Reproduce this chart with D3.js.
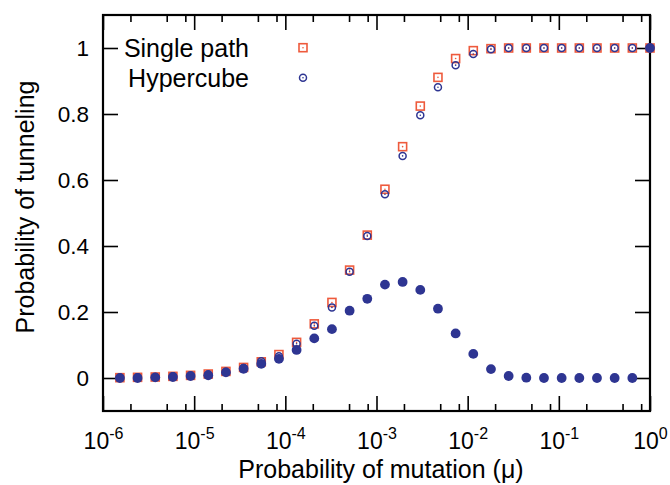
<!DOCTYPE html>
<html>
<head>
<meta charset="utf-8">
<script src="https://cdn.jsdelivr.net/npm/d3@7"></script>
<style>
  html, body { margin: 0; padding: 0; background: #fff; }
  svg { display: block; }
  text { font-family: "Liberation Sans", Arial, Helvetica, sans-serif; fill: #000; }
</style>
</head>
<body>
<svg id="chart" width="670" height="485"></svg>
<script>
// Mutation probabilities (x values, log axis)
const mu = [1.532e-6, 2.394e-6, 3.741e-6, 5.846e-6, 9.134e-6, 1.4272e-5, 2.2301e-5, 3.4845e-5,
  5.4445e-5, 8.507e-5, 1.3292e-4, 2.0769e-4, 3.2452e-4, 5.0706e-4, 7.9228e-4, 1.2379e-3,
  1.9343e-3, 3.0223e-3, 4.7224e-3, 7.3787e-3, 1.1529e-2, 1.8014e-2, 2.8147e-2, 4.398e-2,
  6.8719e-2, 0.10737, 0.16777, 0.262144, 0.4096, 0.64, 1.0];

// Single path (open squares)
const singlePath = [0.001, 0.002, 0.003, 0.005, 0.008, 0.012, 0.020, 0.032, 0.049, 0.071,
  0.108, 0.164, 0.229, 0.327, 0.433, 0.572, 0.701, 0.824, 0.911, 0.968,
  0.992, 0.998, 1.0, 1.0, 1.0, 1.0, 1.0, 1.0, 1.0, 1.0, 1.0];

// Hypercube (open circles)
const hypercube = [0.001, 0.002, 0.003, 0.005, 0.007, 0.011, 0.019, 0.030, 0.051, 0.066,
  0.104, 0.158, 0.214, 0.322, 0.430, 0.557, 0.673, 0.796, 0.881, 0.948,
  0.982, 0.996, 1.0, 1.0, 1.0, 1.0, 1.0, 1.0, 1.0, 1.0, 1.0];

// Unlabelled third series (filled circles)
const filled = [0.000, 0.000, 0.002, 0.003, 0.006, 0.008, 0.017, 0.028, 0.043, 0.058,
  0.085, 0.120, 0.148, 0.204, 0.240, 0.283, 0.291, 0.267, 0.210, 0.135,
  0.073, 0.027, 0.006, 0.001, 0.000, 0.000, 0.000, 0.000, 0.000, 0.000, 1.0];

const xMajorTicks = [1e-6, 1e-5, 1e-4, 1e-3, 1e-2, 1e-1, 1];
const xExponents = ["-6", "-5", "-4", "-3", "-2", "-1", "0"];
const xMinorTicks = [2e-6, 5e-6, 8e-6, 2e-5, 5e-5, 8e-5, 2e-4, 5e-4, 8e-4, 2e-3, 5e-3, 8e-3,
  2e-2, 5e-2, 8e-2, 2e-1, 5e-1, 8e-1];
const yTicks = [0, 0.2, 0.4, 0.6, 0.8, 1];
const yTickLabels = ["0", "0.2", "0.4", "0.6", "0.8", "1"];
const legendLabels = ["Single path", "Hypercube"];

const colSquare = "#ee5a3c";
const colNavy = "#2e3592";

const L = 103, R = 650, T = 15, B = 411;
const svg = d3.select("#chart");

const x = d3.scaleLog().domain([1e-6, 1]).range([L, R]);
const y = d3.scaleLinear().domain([-0.1, 1.1]).range([B, T]);

function styleAxis(g) {
  g.select(".domain").remove();
  g.selectAll(".tick line").attr("stroke", "#000").attr("stroke-width", 1.6);
}

const xLabelMap = new Map(xMajorTicks.map((v, i) => [v, xExponents[i]]));

const gxb = svg.append("g").attr("transform", `translate(0,${B})`)
  .call(d3.axisBottom(x).tickValues(xMajorTicks).tickSize(-15).tickPadding(22).tickFormat(""));
styleAxis(gxb);
gxb.selectAll(".tick text").each(function(d) {
  const t = d3.select(this);
  t.text(null).attr("font-size", 23).attr("fill", "#000");
  t.append("tspan").text("10");
  t.append("tspan").attr("dy", -10).attr("font-size", 16).text(xLabelMap.get(d));
});

const gxbm = svg.append("g").attr("transform", `translate(0,${B})`)
  .call(d3.axisBottom(x).tickValues(xMinorTicks).tickSize(-7).tickFormat(""));
styleAxis(gxbm);

const gxt = svg.append("g").attr("transform", `translate(0,${T})`)
  .call(d3.axisTop(x).tickValues(xMajorTicks).tickSize(-15).tickFormat(""));
styleAxis(gxt);
const gxtm = svg.append("g").attr("transform", `translate(0,${T})`)
  .call(d3.axisTop(x).tickValues(xMinorTicks).tickSize(-7).tickFormat(""));
styleAxis(gxtm);

const gyl = svg.append("g").attr("transform", `translate(${L},0)`)
  .call(d3.axisLeft(y).tickValues(yTicks).tickSize(-15).tickPadding(14)
    .tickFormat((d, i) => yTickLabels[i]));
styleAxis(gyl);
gyl.selectAll(".tick text").attr("font-size", 22.5).attr("fill", "#000");

const gyr = svg.append("g").attr("transform", `translate(${R},0)`)
  .call(d3.axisRight(y).tickValues(yTicks).tickSize(-15).tickFormat(""));
styleAxis(gyr);

// frame
svg.append("rect").attr("x", L).attr("y", T).attr("width", R - L).attr("height", B - T)
  .attr("fill", "none").attr("stroke", "#000").attr("stroke-width", 2.2);

// axis titles
svg.append("text").attr("x", 381).attr("y", 478).attr("text-anchor", "middle")
  .attr("font-size", 25).text("Probability of mutation (μ)");
svg.append("text").attr("transform", `translate(34,207) rotate(-90)`)
  .attr("text-anchor", "middle").attr("font-size", 25).text("Probability of tunneling");

// data
const idx = d3.range(mu.length);
const sq = 8;
const plot = svg.append("g");

plot.selectAll("rect.sp").data(idx).join("rect").attr("class", "sp")
  .attr("x", i => x(mu[i]) - sq / 2).attr("y", i => y(singlePath[i]) - sq / 2)
  .attr("width", sq).attr("height", sq)
  .attr("fill", "none").attr("stroke", colSquare).attr("stroke-width", 1.6);
plot.selectAll("circle.spc").data(idx).join("circle").attr("class", "spc")
  .attr("cx", i => x(mu[i])).attr("cy", i => y(singlePath[i])).attr("r", 0.8).attr("fill", colSquare);

plot.selectAll("circle.hc").data(idx).join("circle").attr("class", "hc")
  .attr("cx", i => x(mu[i])).attr("cy", i => y(hypercube[i])).attr("r", 3.5)
  .attr("fill", "none").attr("stroke", colNavy).attr("stroke-width", 1.5);
plot.selectAll("circle.hcc").data(idx).join("circle").attr("class", "hcc")
  .attr("cx", i => x(mu[i])).attr("cy", i => y(hypercube[i])).attr("r", 0.8).attr("fill", colNavy);

plot.selectAll("circle.fd").data(idx).join("circle").attr("class", "fd")
  .attr("cx", i => x(mu[i])).attr("cy", i => y(filled[i])).attr("r", 4.9)
  .attr("fill", colNavy);

// legend
const legY = [47.7, 77.7];
const lg = svg.append("g");
legendLabels.forEach((lab, i) => {
  lg.append("text").attr("x", 249).attr("y", legY[i] + 9).attr("text-anchor", "end")
    .attr("font-size", 25).text(lab);
});
lg.append("rect").attr("x", 303 - sq / 2).attr("y", legY[0] - sq / 2).attr("width", sq).attr("height", sq)
  .attr("fill", "none").attr("stroke", colSquare).attr("stroke-width", 1.6);
lg.append("circle").attr("cx", 303).attr("cy", legY[0]).attr("r", 0.8).attr("fill", colSquare);
lg.append("circle").attr("cx", 303).attr("cy", legY[1]).attr("r", 3.5)
  .attr("fill", "none").attr("stroke", colNavy).attr("stroke-width", 1.5);
lg.append("circle").attr("cx", 303).attr("cy", legY[1]).attr("r", 0.8).attr("fill", colNavy);
</script>
</body>
</html>
